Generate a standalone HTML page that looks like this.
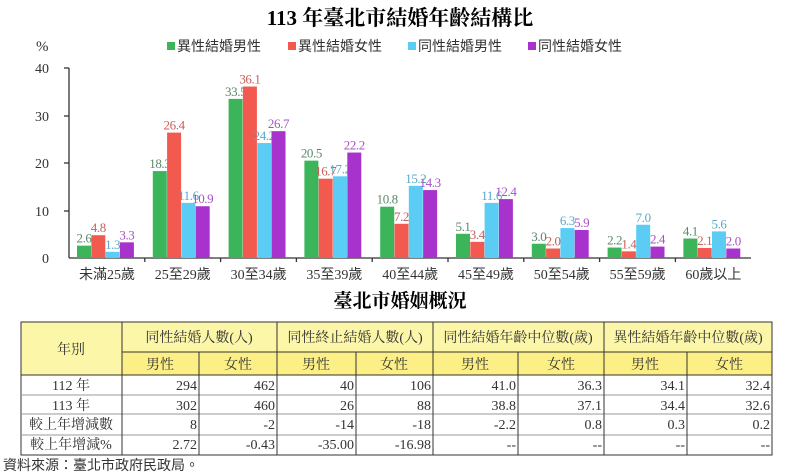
<!DOCTYPE html>
<html><head><meta charset="utf-8"><style>
html,body{margin:0;padding:0;background:#fff;}
svg{display:block;}
text{font-family:"Liberation Serif","Noto Serif CJK SC","Noto Sans CJK TC",serif;}
</style></head><body>
<svg width="800" height="475" viewBox="0 0 800 475" xmlns="http://www.w3.org/2000/svg">
<text x="400" y="25" text-anchor="middle" font-size="21" font-weight="bold" style="font-family:'Liberation Serif','Noto Serif CJK SC',serif">113 年臺北市結婚年齡結構比</text>
<g font-size="14" fill="#333">
<rect x="167" y="42" width="8" height="8" fill="#3cb55a"/><text x="177" y="51" style="font-family:'Noto Sans CJK TC',sans-serif">異性結婚男性</text>
<rect x="288" y="42" width="8" height="8" fill="#f2594f"/><text x="298" y="51" style="font-family:'Noto Sans CJK TC',sans-serif">異性結婚女性</text>
<rect x="408" y="42" width="8" height="8" fill="#5bcdf5"/><text x="418" y="51" style="font-family:'Noto Sans CJK TC',sans-serif">同性結婚男性</text>
<rect x="528" y="42" width="8" height="8" fill="#a733cc"/><text x="538" y="51" style="font-family:'Noto Sans CJK TC',sans-serif">同性結婚女性</text>
</g>
<text x="36" y="51" font-size="15" fill="#333">%</text>
<g font-size="14" fill="#333" text-anchor="end">
<text x="49" y="73">40</text><text x="49" y="121">30</text><text x="49" y="168">20</text><text x="49" y="216">10</text><text x="49" y="263">0</text>
</g>
<g stroke="#333" stroke-width="1.3">
<line x1="69" y1="68" x2="69" y2="258"/>
<line x1="64" y1="68" x2="69" y2="68"/><line x1="64" y1="116" x2="69" y2="116"/><line x1="64" y1="163" x2="69" y2="163"/><line x1="64" y1="211" x2="69" y2="211"/>
<line x1="69" y1="258" x2="751" y2="258"/>
</g>
<g id="bars"></g>
<text x="400" y="307" text-anchor="middle" font-size="19" font-weight="bold" style="font-family:'Noto Serif CJK SC',serif">臺北市婚姻概況</text>
<rect x="21" y="322" width="751" height="30" fill="#fcf7a8"/>
<rect x="122" y="352" width="650" height="23" fill="#fcef86"/>
<rect x="21" y="352" width="101" height="23" fill="#fcf7a8"/>
<g stroke="#333" stroke-width="1" fill="none">
<rect x="21" y="322" width="751" height="133"/>
<line x1="21" y1="375" x2="772" y2="375"/>
<line x1="122" y1="352" x2="772" y2="352"/>
<line x1="21" y1="395" x2="772" y2="395" stroke="#999"/>
<line x1="21" y1="414" x2="772" y2="414" stroke="#999"/>
<line x1="21" y1="435" x2="772" y2="435" stroke="#999"/>
<line x1="122" y1="322" x2="122" y2="455"/>
<line x1="277" y1="322" x2="277" y2="455"/>
<line x1="433" y1="322" x2="433" y2="455"/>
<line x1="604" y1="322" x2="604" y2="455"/>
<line x1="199" y1="352" x2="199" y2="455"/>
<line x1="356" y1="352" x2="356" y2="455"/>
<line x1="518" y1="352" x2="518" y2="455"/>
<line x1="687" y1="352" x2="687" y2="455"/>
</g>
<g font-size="14" fill="#333" text-anchor="middle" style="font-family:'Noto Sans CJK TC',sans-serif">
<text x="71" y="354">年別</text>
<text x="199" y="342">同性結婚人數(人)</text>
<text x="355" y="342">同性終止結婚人數(人)</text>
<text x="518" y="342">同性結婚年齡中位數(歲)</text>
<text x="688" y="342">異性結婚年齡中位數(歲)</text>
<text x="160" y="369">男性</text><text x="238" y="369">女性</text>
<text x="316" y="369">男性</text><text x="394" y="369">女性</text>
<text x="475" y="369">男性</text><text x="561" y="369">女性</text>
<text x="645" y="369">男性</text><text x="729" y="369">女性</text>
<text x="71" y="429">較上年增減數</text>
<text x="71" y="449">較上年增減%</text>
</g>
<g font-size="14" fill="#333" text-anchor="middle">
<text x="71" y="390">112 年</text><text x="71" y="410">113 年</text>
</g>
<g font-size="14" fill="#333" text-anchor="end" id="tbl"></g>
<text x="3" y="470" font-size="14" fill="#333" style="font-family:'Noto Sans CJK TC',sans-serif">資料來源：臺北市政府民政局。</text>
</svg>
<script>
var d=[[2.6,4.8,1.3,3.3],[18.3,26.4,11.6,10.9],[33.5,36.1,24.2,26.7],[20.5,16.7,17.2,22.2],[10.8,7.2,15.2,14.3],[5.1,3.4,11.6,12.4],[3.0,2.0,6.3,5.9],[2.2,1.4,7.0,2.4],[4.1,2.1,5.6,2.0]];
var cats=["未滿25歲","25至29歲","30至34歲","35至39歲","40至44歲","45至49歲","50至54歲","55至59歲","60歲以上"];
var col=["#3cb55a","#f2594f","#5bcdf5","#a733cc"],tc=["#5a8a6a","#c8605a","#5aa8c8","#a850c8"];
var g=document.getElementById("bars"),s="";
for(var i=0;i<9;i++){var x0=69+75.8*i;
 if(i>0)s+='<line x1="'+x0+'" y1="258" x2="'+x0+'" y2="262" stroke="#333" stroke-width="1.3"/>';
 for(var j=0;j<4;j++){var v=d[i][j],h=v*4.75,x=x0+8+j*14.3;
  s+='<rect x="'+x+'" y="'+(258-h)+'" width="14" height="'+h+'" fill="'+col[j]+'"/>';
  s+='<text x="'+(x+7)+'" y="'+(255-h)+'" text-anchor="middle" font-size="13" letter-spacing="-0.4" fill="'+tc[j]+'">'+v.toFixed(1)+'</text>';}
 s+='<text x="'+(x0+38)+'" y="279" text-anchor="middle" font-size="14" fill="#333" style="font-family:\'Liberation Serif\',\'Noto Sans CJK TC\',serif">'+cats[i]+'</text>';}
g.innerHTML=s;
var rows=[["294","462","40","106","41.0","36.3","34.1","32.4"],["302","460","26","88","38.8","37.1","34.4","32.6"],["8","-2","-14","-18","-2.2","0.8","0.3","0.2"],["2.72","-0.43","-35.00","-16.98","--","--","--","--"]];
var xs=[197,275,354,431,516,602,685,770],ys=[390,410,429,449],t="";
for(var r=0;r<4;r++)for(var c=0;c<8;c++)t+='<text x="'+xs[c]+'" y="'+ys[r]+'">'+rows[r][c]+'</text>';
document.getElementById("tbl").innerHTML=t;
</script>
</body></html>
